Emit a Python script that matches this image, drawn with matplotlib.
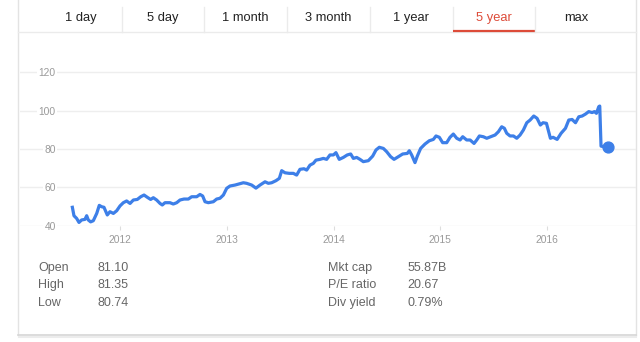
import matplotlib
matplotlib.use("Agg")
import matplotlib.pyplot as plt

plt.rcParams['font.family'] = ['Liberation Sans', 'DejaVu Sans']

# ---- data (decimal year, price) ----
dates = [
    2011.554, 2011.569, 2011.594, 2011.616, 2011.641, 2011.672, 2011.688, 2011.703,
    2011.725, 2011.750, 2011.782, 2011.806, 2011.828, 2011.850, 2011.881, 2011.906,
    2011.938, 2011.969, 2012.000, 2012.031, 2012.062, 2012.094, 2012.125, 2012.162,
    2012.194, 2012.225, 2012.256, 2012.287, 2012.312, 2012.343, 2012.375, 2012.396,
    2012.421, 2012.468, 2012.499, 2012.531, 2012.562, 2012.599, 2012.640, 2012.671,
    2012.718, 2012.749, 2012.774, 2012.796, 2012.827, 2012.874, 2012.905, 2012.936,
    2012.968, 2012.999, 2013.030, 2013.077, 2013.108, 2013.155, 2013.186, 2013.233,
    2013.273, 2013.311, 2013.358, 2013.389, 2013.420, 2013.461, 2013.492, 2013.514,
    2013.545, 2013.585, 2013.623, 2013.654, 2013.685, 2013.723, 2013.748, 2013.779,
    2013.810, 2013.835, 2013.873, 2013.904, 2013.935, 2013.966, 2013.998, 2014.022,
    2014.053, 2014.091, 2014.128, 2014.160, 2014.185, 2014.216, 2014.247, 2014.278,
    2014.325, 2014.366, 2014.397, 2014.428, 2014.466, 2014.497, 2014.534, 2014.566,
    2014.606, 2014.647, 2014.690, 2014.709, 2014.731, 2014.762, 2014.784, 2014.815,
    2014.856, 2014.896, 2014.934, 2014.959, 2014.990, 2015.021, 2015.059, 2015.090,
    2015.121, 2015.153, 2015.184, 2015.209, 2015.246, 2015.278, 2015.315, 2015.340,
    2015.365, 2015.402, 2015.434, 2015.471, 2015.512, 2015.543, 2015.574, 2015.599,
    2015.621, 2015.652, 2015.684, 2015.715, 2015.746, 2015.777, 2015.809, 2015.840,
    2015.874, 2015.905, 2015.936, 2015.961, 2015.993, 2016.030, 2016.055, 2016.093,
    2016.130, 2016.171, 2016.202, 2016.233, 2016.265, 2016.296, 2016.327, 2016.358,
    2016.389, 2016.421, 2016.442, 2016.461, 2016.483, 2016.492, 2016.504, 2016.529,
    2016.567,
]
prices = [
    49.6, 45.2, 43.8, 41.7, 43.0, 43.3, 45.2, 43.0,
    42.0, 42.6, 46.4, 50.6, 49.9, 49.6, 45.6, 47.3,
    46.4, 47.8, 50.3, 52.0, 52.9, 51.6, 53.4, 53.7,
    55.1, 56.0, 54.8, 53.7, 54.6, 53.4, 51.6, 50.8,
    52.0, 52.0, 51.3, 52.0, 53.4, 53.9, 53.9, 55.1,
    55.1, 56.3, 55.5, 52.5, 52.0, 52.5, 53.9, 54.3,
    56.0, 59.5, 60.7, 61.2, 61.7, 62.4, 62.1, 61.2,
    59.6, 61.2, 62.9, 62.1, 62.4, 63.5, 64.7, 68.7,
    67.6, 67.3, 67.3, 66.4, 69.4, 69.7, 69.0, 71.6,
    72.5, 74.2, 74.6, 75.1, 74.6, 76.9, 76.9, 78.1,
    74.6, 75.6, 76.9, 77.4, 75.1, 75.6, 74.6, 73.4,
    73.9, 76.3, 79.5, 80.9, 80.3, 78.6, 76.0, 74.6,
    76.0, 77.4, 77.7, 79.1, 76.9, 72.9, 76.3, 80.3,
    82.6, 84.3, 85.0, 86.8, 86.1, 83.3, 83.3, 86.1,
    87.8, 85.6, 84.7, 86.4, 84.7, 84.7, 82.9, 84.7,
    86.8, 86.4, 85.6, 86.4, 87.3, 89.0, 91.6, 90.8,
    88.2, 86.8, 86.8, 85.6, 87.3, 89.9, 93.7, 95.1,
    97.2, 96.0, 92.5, 93.7, 93.4, 85.6, 86.1, 85.0,
    88.2, 90.8, 95.1, 95.4, 93.7, 96.8, 97.2, 98.2,
    99.5, 99.0, 99.5, 98.6, 102.1, 102.4, 81.5, 81.2,
    81.3,
]
year_ticks = [2012, 2013, 2014, 2015, 2016]
year_labels = ["2012", "2013", "2014", "2015", "2016"]
price_ticks = [40, 60, 80, 100, 120]
tabs = ["1 day", "5 day", "1 month", "3 month", "1 year", "5 year", "max"]
selected_tab = "5 year"
stats_left_names = ["Open", "High", "Low"]
stats_left_values = ["81.10", "81.35", "80.74"]
stats_right_names = ["Mkt cap", "P/E ratio", "Div yield"]
stats_right_values = ["55.87B", "20.67", "0.79%"]

W, H = 640, 342
fig = plt.figure(figsize=(W / 100, H / 100), dpi=100)
fig.patch.set_facecolor("white")

# overlay axes in pixel coordinates for card / tab bar
ov = fig.add_axes([0, 0, 1, 1], zorder=0)
ov.set_xlim(0, W)
ov.set_ylim(H, 0)
ov.axis("off")

border = "#e3e3e3"
# card border and shadow
ov.plot([18, 18], [0, 335], color=border, lw=1)
ov.plot([636, 636], [0, 335], color=border, lw=1)
ov.plot([18, 636], [335, 335], color="#d6d6d6", lw=1.2)
ov.plot([19, 636], [336.5, 336.5], color="#ececec", lw=1.5)

# tab bar
tab_left, tab_w = 39, 82.7
ov.plot([18, 636], [32.3, 32.3], color="#ebebeb", lw=1)
for i, t in enumerate(tabs):
    cx = tab_left + tab_w * (i + 0.5)
    sel = (t == selected_tab)
    ov.text(cx, 18, t, ha="center", va="center", fontsize=9.3,
            color="#dd4b39" if sel else "#222222")
    if i > 0:
        x = tab_left + tab_w * i
        ov.plot([x, x], [7, 32], color="#ebebeb", lw=1)
    if sel:
        ov.plot([tab_left + tab_w * i, tab_left + tab_w * (i + 1)], [31, 31],
                color="#dd4b39", lw=1.6, solid_capstyle="butt")

# stats
stat_color = "#666666"
rows_y = [268.3, 285.0, 302.7]
for y, n, v in zip(rows_y, stats_left_names, stats_left_values):
    ov.text(38.3, y, n, ha="left", va="center", fontsize=9, color=stat_color)
    ov.text(97.7, y, v, ha="left", va="center", fontsize=9, color=stat_color)
for y, n, v in zip(rows_y, stats_right_names, stats_right_values):
    ov.text(327.7, y, n, ha="left", va="center", fontsize=9, color=stat_color)
    ov.text(407.3, y, v, ha="left", va="center", fontsize=9, color=stat_color)

# chart axes
left_px, right_px, top_px, bottom_px = 20, 636, 62, 225.7
ax = fig.add_axes([left_px / W, 1 - bottom_px / H,
                   (right_px - left_px) / W, (bottom_px - top_px) / H], zorder=1)
ax.patch.set_alpha(0)
px_per_unit = 1.9175
px_per_year = 106.8
ax.set_ylim(40, 40 + (bottom_px - top_px) / px_per_unit)
ax.set_xlim(2012 + (left_px - 120) / px_per_year, 2012 + (right_px - 120) / px_per_year)

line_color = "#3d7fe8"
ax.plot(dates, prices, color=line_color, lw=2.3, solid_joinstyle="round", zorder=3)
ax.plot([dates[-1]], [prices[-1]], "o", color=line_color, ms=7.8, zorder=4)

for s in ax.spines.values():
    s.set_visible(False)
ax.set_yticks(price_ticks)
ax.set_yticklabels([str(p) for p in price_ticks])
ax.yaxis.grid(True, color="#eeeeee", lw=1)
ax.set_axisbelow(True)
ax.tick_params(axis="y", length=0, pad=-25.8, labelsize=7.4, labelcolor="#9a9a9a")
for lab in ax.get_yticklabels():
    lab.set_bbox(dict(facecolor="white", edgecolor="none", pad=1.2))
    lab.set_zorder(2)
ax.set_xticks(year_ticks)
ax.set_xticklabels(year_labels)
ax.tick_params(axis="x", length=3, width=0.8, color="#dddddd", pad=3.5,
               labelsize=7.4, labelcolor="#9a9a9a")

fig.savefig("out.png", dpi=100)
